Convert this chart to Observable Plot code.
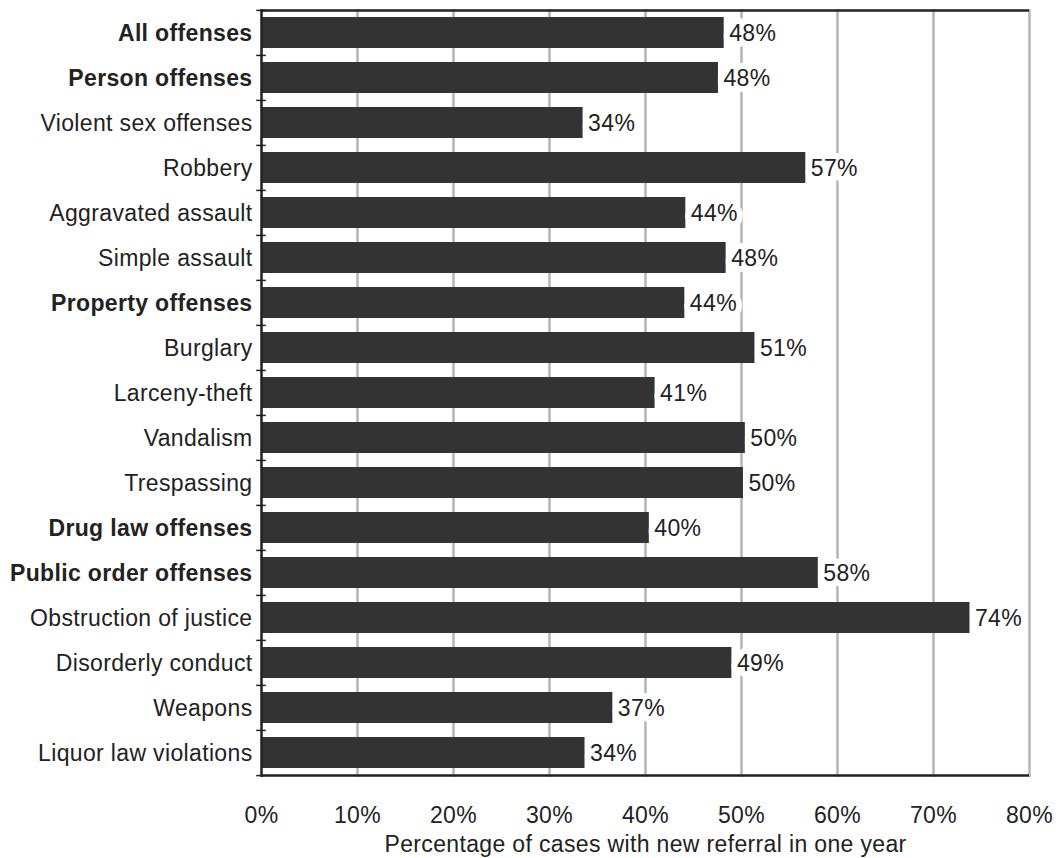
<!DOCTYPE html>
<html>
<head>
<meta charset="utf-8">
<script src="https://cdn.jsdelivr.net/npm/d3@7"></script>
<script src="https://cdn.jsdelivr.net/npm/@observablehq/plot@0.6"></script>
<style>
  html, body { margin: 0; padding: 0; background: #fff; }
  #chart svg { display: block; }
</style>
</head>
<body>
<div id="chart"></div>
<script>
// Offense categories, top to bottom
const categories = [
  "All offenses",
  "Person offenses",
  "Violent sex offenses",
  "Robbery",
  "Aggravated assault",
  "Simple assault",
  "Property offenses",
  "Burglary",
  "Larceny-theft",
  "Vandalism",
  "Trespassing",
  "Drug law offenses",
  "Public order offenses",
  "Obstruction of justice",
  "Disorderly conduct",
  "Weapons",
  "Liquor law violations"
];

// Percentage of cases with a new referral within one year
const values = [48.2, 47.6, 33.5, 56.7, 44.2, 48.4, 44.1, 51.4, 41.0, 50.4, 50.2, 40.4, 58.0, 73.8, 49.0, 36.6, 33.7];

// Summary rows shown in bold
const summaryRows = ["All offenses", "Person offenses", "Property offenses", "Drug law offenses", "Public order offenses"];

// Axis ticks (percent)
const xTicks = [0, 10, 20, 30, 40, 50, 60, 70, 80];
const xTitle = "Percentage of cases with new referral in one year";

const data = categories.map((category, i) => ({category, value: values[i]}));

const width = 1059, height = 858;
const marginTop = 9, marginBottom = 81, marginLeft = 261, marginRight = 30;
const step = (height - marginTop - marginBottom) / categories.length;

const ink = "#222";
const grid = "#b4b4b8";
const fontFamily = "'Liberation Sans', Arial, Helvetica, sans-serif";
const fontSize = 23;

const chart = Plot.plot({
  width, height,
  marginTop, marginBottom, marginLeft, marginRight,
  style: {fontFamily, fontSize: `${fontSize}px`, color: ink, background: "#fff", letterSpacing: "0.35px"},
  x: {domain: [0, 80], ticks: xTicks},
  y: {domain: categories, paddingInner: 0.31, paddingOuter: 0.155, axis: null},
  marks: [
    // vertical gridlines
    Plot.ruleX(xTicks.filter(t => t > 0), {stroke: grid, strokeWidth: 2.5}),
    // bars
    Plot.barX(data, {x: "value", y: "category", fill: "#333333"}),
    // left axis line
    Plot.ruleX([0], {stroke: ink, strokeWidth: 2.5}),
    // top and bottom border lines
    Plot.ruleY([categories[0]], {x1: 0, x2: 80, dy: -step / 2, stroke: ink, strokeWidth: 2.5}),
    Plot.ruleY([categories[categories.length - 1]], {x1: 0, x2: 80, dy: step / 2, stroke: ink, strokeWidth: 2.5}),
    // category boundary ticks on the left axis
    Plot.ruleY(categories, {x1: -0.5, x2: 0.5, dy: -step / 2, stroke: ink, strokeWidth: 1.5}),
    Plot.ruleY([categories[categories.length - 1]], {x1: -0.5, x2: 0, dy: step / 2, stroke: ink, strokeWidth: 1.5}),
    // value labels
    Plot.text(data, {
      x: "value", y: "category",
      text: d => `${Math.round(d.value)}%`,
      dx: 5, dy: 1, textAnchor: "start",
      fill: ink, stroke: "white", strokeWidth: 12, fontSize
    }),
    // category labels
    Plot.text(data.filter(d => !summaryRows.includes(d.category)), {
      y: "category", text: "category", frameAnchor: "left",
      dx: -9, dy: 1, textAnchor: "end", fill: ink, fontSize
    }),
    Plot.text(data.filter(d => summaryRows.includes(d.category)), {
      y: "category", text: "category", frameAnchor: "left",
      dx: -9, dy: 1, textAnchor: "end", fill: ink, fontSize, fontWeight: "bold"
    }),
    // x axis tick labels
    Plot.axisX({
      ticks: xTicks, tickFormat: d => `${d}%`, tickSize: 0, tickPadding: 29,
      label: null, fontSize, fill: ink
    }),
    // x axis title
    Plot.text([xTitle], {
      text: d => d, frameAnchor: "bottom", dy: 74, fill: ink, fontSize
    })
  ]
});

document.getElementById("chart").appendChild(chart);
</script>
</body>
</html>
